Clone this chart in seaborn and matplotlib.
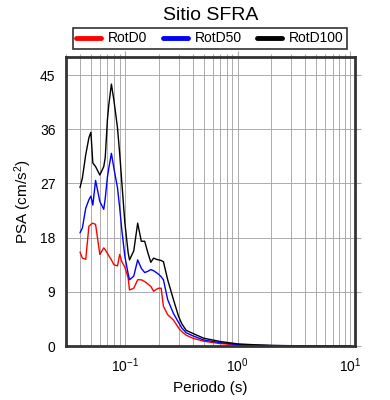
import matplotlib
matplotlib.use("Agg")
import matplotlib.pyplot as plt
from matplotlib.lines import Line2D
from matplotlib.ticker import LogLocator, NullFormatter
import pandas as pd
import seaborn as sns

# periods (s) and spectral accelerations (cm/s^2)
periods = [0.04, 0.042, 0.045, 0.048, 0.05, 0.052, 0.055, 0.06, 0.065, 0.067,
           0.07, 0.072, 0.076, 0.08, 0.086, 0.09, 0.094, 0.1, 0.107, 0.11,
           0.12, 0.13, 0.14, 0.15, 0.16, 0.17, 0.18, 0.19, 0.2, 0.21,
           0.22, 0.24, 0.27, 0.3, 0.32, 0.35, 0.4, 0.5, 0.7, 1.0,
           1.5, 2.0, 3.0, 5.0, 7.5, 10.0]

rotd0 = [15.6, 14.6, 14.4, 19.9, 20.2, 20.4, 20.2, 15.2, 16.3, 16.0,
         15.4, 15.0, 14.3, 13.5, 13.3, 15.2, 14.0, 13.1, 11.3, 9.3,
         9.6, 11.0, 11.0, 10.7, 10.3, 9.9, 9.1, 9.4, 9.6, 9.6,
         6.6, 5.2, 4.3, 3.0, 2.4, 1.8, 1.3, 0.8, 0.4, 0.2,
         0.1, 0.05, 0.03, 0.01, 0.01, 0.0]

rotd50 = [18.8, 19.6, 22.9, 24.3, 24.9, 23.4, 27.5, 24.0, 22.7, 24.5,
          28.0, 29.5, 32.0, 29.5, 26.3, 23.0, 19.3, 14.9, 12.0, 11.0,
          11.6, 14.3, 12.9, 12.2, 12.4, 12.7, 12.5, 12.2, 11.9, 11.5,
          11.0, 7.7, 5.4, 3.9, 3.0, 2.2, 1.7, 1.0, 0.55, 0.25,
          0.12, 0.07, 0.04, 0.02, 0.01, 0.01]

rotd100 = [26.3, 27.9, 31.8, 34.6, 35.5, 30.4, 29.8, 28.4, 29.8, 31.3,
           37.5, 40.0, 43.5, 40.8, 36.3, 32.0, 27.2, 20.5, 15.5, 14.3,
           15.8, 20.4, 17.4, 17.4, 15.5, 13.9, 14.6, 14.4, 14.3, 14.2,
           14.0, 11.0, 7.7, 4.9, 3.7, 2.6, 2.1, 1.3, 0.75, 0.35,
           0.18, 0.1, 0.05, 0.03, 0.02, 0.01]

series_names = ["RotD0", "RotD50", "RotD100"]
series_colors = ["#ff0000", "#0000ff", "#000000"]
yticks = [0, 9, 18, 27, 36, 45]

df = pd.DataFrame({"Periodo": periods, "RotD0": rotd0,
                   "RotD50": rotd50, "RotD100": rotd100})
long_df = df.melt(id_vars="Periodo", var_name="comp", value_name="psa")

sns.set_style("white")
plt.rcParams["font.family"] = ["Liberation Sans", "DejaVu Sans"]
plt.rcParams["mathtext.fontset"] = "custom"
plt.rcParams["mathtext.rm"] = "Liberation Sans"
plt.rcParams["mathtext.it"] = "Liberation Sans:italic"
plt.rcParams["text.color"] = "black"
plt.rcParams["axes.labelcolor"] = "black"
plt.rcParams["xtick.labelcolor"] = "black"
plt.rcParams["ytick.labelcolor"] = "black"

fig = plt.figure(figsize=(3.9, 4.0), dpi=100)
ax = fig.add_axes([0.169, 0.135, 0.741, 0.7225])

sns.lineplot(data=long_df, x="Periodo", y="psa", hue="comp",
             hue_order=series_names, palette=dict(zip(series_names, series_colors)),
             estimator=None, sort=True, linewidth=1.0, ax=ax, legend=False)

ax.set_xscale("log")
ax.set_xlim(0.03, 11)
ax.set_ylim(0, 48)
ax.set_yticks(yticks)
ax.xaxis.set_major_locator(LogLocator(base=10))
ax.xaxis.set_minor_locator(LogLocator(base=10, subs=range(2, 10)))
ax.xaxis.set_minor_formatter(NullFormatter())

ax.grid(True, which="major", axis="both", color="#a6a6a6", linewidth=0.65)
ax.grid(True, which="minor", axis="x", color="#a6a6a6", linewidth=0.65)
ax.set_axisbelow(True)

for s in ax.spines.values():
    s.set_color("#333333")
    s.set_linewidth(2.0)

ax.tick_params(which="both", direction="out", color="#aaaaaa",
               top=True, right=True, labelsize=10, length=4, width=0.8)
ax.tick_params(which="minor", length=2.5)

ax.set_xlabel("Periodo (s)", fontsize=11)
ax.set_ylabel("PSA (cm/s$^2$)", fontsize=11)
ax.set_title("Sitio SFRA", fontsize=14, pad=27)

handles = [Line2D([0], [0], color=c, lw=3.5) for c in series_colors]
leg = ax.legend(handles, series_names, loc="lower left", ncol=3, mode="expand",
                bbox_to_anchor=(0.024, 1.028, 0.948, 0.072), borderaxespad=0,
                fontsize=10, frameon=True, fancybox=False, handlelength=1.8,
                handletextpad=0.5, borderpad=0.25, columnspacing=0.5)
leg.get_frame().set_edgecolor("black")
leg.get_frame().set_linewidth(1.2)

fig.savefig("out.png", dpi=100)
